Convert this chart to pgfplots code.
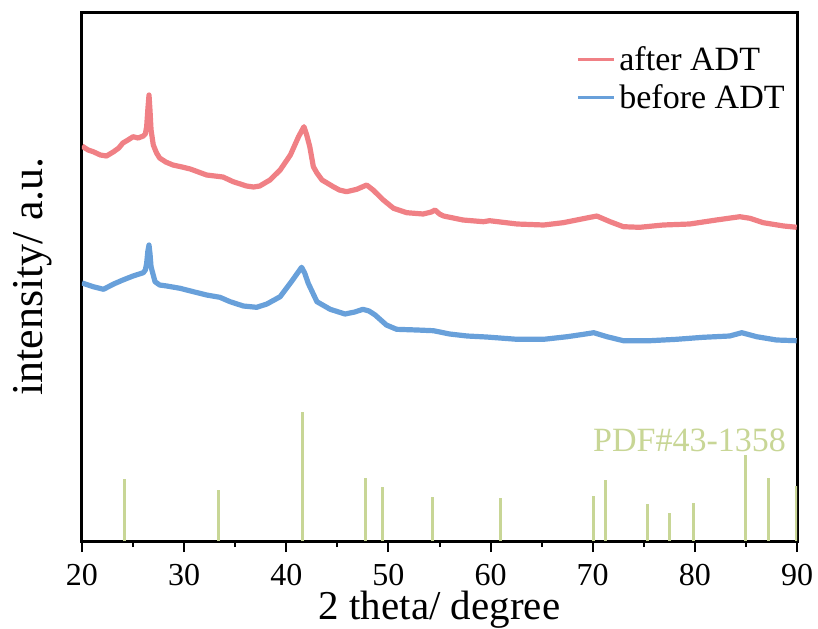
\documentclass[border=0pt]{standalone}
\usepackage{pgfplots}
\pgfplotsset{compat=1.18}
\usepackage{fontspec}
\setmainfont{Liberation Serif}
\definecolor{redc}{RGB}{240,128,133}
\definecolor{bluec}{RGB}{104,160,218}
\definecolor{pdfc}{RGB}{200,214,150}
\begin{document}
\begin{tikzpicture}
\begin{axis}[
  at={(0,0)}, anchor=south west,
  scale only axis, width=357.5pt, height=264.5pt,
  xmin=20, xmax=90, ymin=0, ymax=529,
  xtick={20,30,...,90}, minor x tick num=1,
  ytick=\empty,
  xtick pos=bottom, tick align=outside,
  major tick length=5.5pt, minor tick length=3pt,
  every tick/.style={black, line width=1pt},
  axis line style={line width=1.5pt},
  /pgf/number format/assume math mode=true,
  ticklabel style={font=\fontsize{16}{18}\selectfont},
  xticklabel style={yshift=-5.3pt, inner sep=0pt, text height=11.2pt, text depth=0pt},
  xlabel={2 theta/ degree}, ylabel={intensity/ a.u.},
  xlabel style={font=\fontsize{20.5}{22}\selectfont, yshift=-2.6pt, inner sep=0pt, text height=14pt, text depth=4.5pt},
  ylabel style={font=\fontsize{22}{24}\selectfont, yshift=6pt},
  legend style={draw=none, fill=none, at={(1,1)}, anchor=north east, xshift=-4pt, yshift=-15pt,
    font=\fontsize{17}{20}\selectfont, row sep=1.5pt, inner sep=0pt},
  legend cell align=left,
  legend image code/.code={\draw[#1, line width=1.5pt] (0pt,0pt) -- (18pt,0pt);},
  clip=true,
]
\addplot[redc, line width=2.6pt, line join=round] table[x=x,y=y] {
x y
20.0 395
20.1 394.3
20.6 391
21.1 389.3
21.8 386
22.4 385
23.1 389.3
23.6 393
24.0 398
24.5 401
25.0 404.3
25.5 403
26.0 405
26.2 407
26.33 414.3
26.45 432
26.56 446
26.66 430
26.76 411
26.98 396
27.3 388
27.6 383
28.2 379
28.9 376
29.8 374
30.6 372
31.4 369
32.2 366
33.0 365
33.8 364
34.8 359.3
35.5 357
36.1 355
36.8 354
37.4 355
38.4 361
39.4 371
40.4 386
41.2 404.3
41.73 414.3
42.0 406
42.3 394.3
42.65 374.3
43.0 368
43.5 361
44.6 354.3
45.2 351
45.9 349.3
46.9 351.7
47.87 356
48.5 351
49.5 341
50.5 332.7
51.8 328.3
53.4 327
54.2 329
54.56 331
55.0 327
55.4 325
57.3 321
59.3 319.3
59.9 320.3
62.6 317
65.2 316
67.1 318.3
68.76 321.7
70.4 325
71.7 319.3
73.0 314.3
74.6 313.7
76.9 316
79.5 317
82.1 321
84.4 324.3
85.4 322.7
86.7 318.3
88.7 315
89.97 313.7
};
\addlegendentry{after ADT}
\addplot[bluec, line width=2.6pt, line join=round] table[x=x,y=y] {
x y
20.0 258
20.1 257.7
21.1 254.3
22.1 251.7
23.1 257
24.0 261
25.0 265
26.0 268.3
26.2 271
26.33 277.7
26.45 290
26.56 296
26.66 287
26.76 274.3
27.15 259.3
27.6 256
28.3 255
29.6 252.7
30.9 249.3
32.2 246
33.5 243.7
34.5 239.3
35.8 235
37.1 233.7
38.1 237
39.4 244.3
40.5 259.3
41.5 273.7
41.8 268
42.15 257.7
43.0 239.3
44.3 231.7
45.75 227
46.7 229
47.5 231.7
48.1 230
48.7 226
49.8 216
50.8 211.7
52.8 211
54.4 210.3
56.0 207
57.7 205
59.6 204
62.6 201.7
65.2 201.7
67.5 204.3
69.1 206.7
70.1 208.3
71.4 204.3
73.0 200.3
75.6 200.3
78.2 201.7
80.8 203.7
83.4 205
84.6 208.3
86.05 204.3
88.0 201
89.97 200.3
};
\addlegendentry{before ADT}
\addplot[pdfc, line width=1.6pt, ycomb, forget plot] table[x=x,y=y] {
x y
24.15 62
33.35 51
41.58 129
47.75 63
49.45 54
54.35 44
60.98 43
70.1 45
71.27 61
75.35 37
77.54 28
79.88 38
84.95 86
87.2 63
89.95 55
};
\node[anchor=east, text=pdfc, font=\fontsize{17}{20}\selectfont] at (axis cs:89.6,101) {PDF\#43-1358};
\end{axis}
\pgfresetboundingbox
\useasboundingbox (-41pt,-43.5pt) rectangle (368pt,270.5pt);
\end{tikzpicture}
\end{document}
